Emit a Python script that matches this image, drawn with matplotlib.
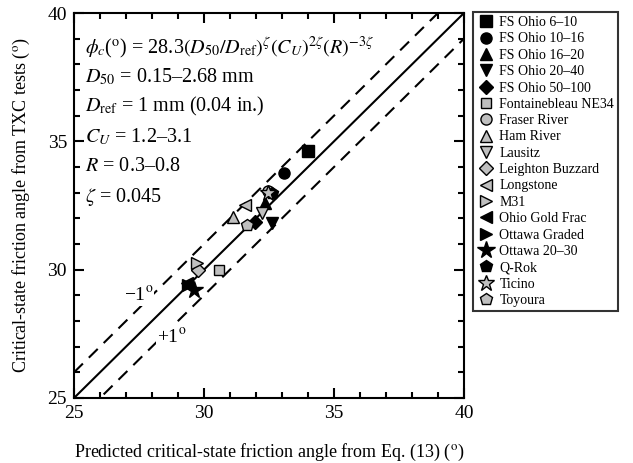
import numpy as np
import matplotlib
matplotlib.use('Agg')
import matplotlib.pyplot as plt

plt.rcParams['font.family'] = ['Liberation Serif', 'DejaVu Serif']
plt.rcParams['mathtext.fontset'] = 'stix'

# dados
nomes = ['FS Ohio 6–10', 'FS Ohio 10–16', 'FS Ohio 16–20', 'FS Ohio 20–40',
         'FS Ohio 50–100', 'Fontainebleau NE34', 'Fraser River', 'Ham River',
         'Lausitz', 'Leighton Buzzard', 'Longstone', 'M31', 'Ohio Gold Frac',
         'Ottawa Graded', 'Ottawa 20–30', 'Q-Rok', 'Ticino', 'Toyoura']
previsto = [34.0, 33.09, 32.35, 32.6, 31.96, 30.56, 32.45, 31.13,
            32.22, 29.78, 31.58, 29.72, 29.33, 29.4, 29.6, 32.6, 32.45, 31.64]
medido = [34.63, 33.75, 32.58, 31.8, 31.87, 29.99, 33.05, 32.06,
          32.2, 29.99, 32.52, 30.25, 29.47, 29.4, 29.2, 32.97, 33.0, 31.74]

marcadores = ['s', 'o', '^', 'v', 'D', 's', 'o', '^', 'v', 'D',
              '<', '>', '<', '>', '*', 'p', '*', 'p']
cores = ['black'] * 5 + ['#bfbfbf'] * 7 + ['black'] * 4 + ['#bfbfbf'] * 2
tamanhos = [8, 8, 9, 9, 7, 7, 8, 9, 9, 7, 9, 9, 9, 9, 13, 9, 12, 9]

grau = r'$^{\mathrm{o}}$'

fig = plt.figure(figsize=(6.33, 4.63), dpi=100)
ax = fig.add_axes([74 / 633, 1 - 398 / 463, 390 / 633, 385 / 463])

# linhas de referencia
lim = np.array([25, 40])
ax.plot(lim, lim, color='black', lw=1.5, zorder=1)
ax.plot(lim, lim + 1, color='black', lw=1.5, ls=(0, (6, 4)), zorder=1)
ax.plot(lim, lim - 1, color='black', lw=1.5, ls=(0, (6, 4)), zorder=1)

for x, y, m, c, s, n in zip(previsto, medido, marcadores, cores, tamanhos, nomes):
    ax.plot([x], [y], marker=m, color=c, markeredgecolor='black',
            markeredgewidth=1.0, markersize=s, ls='none', label=n, zorder=3)

ax.set_xlim(25, 40)
ax.set_ylim(25, 40)
ax.set_xticks([25, 30, 35, 40])
ax.set_yticks([25, 30, 35, 40])
ax.set_xticks(np.arange(25, 41, 1), minor=True)
ax.set_yticks(np.arange(25, 41, 1), minor=True)
ax.tick_params(which='both', direction='in', top=True, right=True, width=1.5,
               labelsize=14, pad=5)
ax.tick_params(which='major', length=7)
ax.tick_params(which='minor', length=4)
for sp in ax.spines.values():
    sp.set_linewidth(1.5)

ax.set_xlabel('Predicted critical-state friction angle from Eq. (13) (' + grau + ')',
              fontsize=13, labelpad=14)
ax.set_ylabel('Critical-state friction angle from TXC tests (' + grau + ')',
              fontsize=13, labelpad=11)

# texto com a equacao
linhas = [r'$\phi_c$(' + grau + r') = 28.3$(D_{50}/D_{\mathrm{ref}})^{\zeta}(C_U)^{2\zeta}(R)^{-3\zeta}$',
          r'$D_{50}$ = 0.15–2.68 mm',
          r'$D_{\mathrm{ref}}$ = 1 mm (0.04 in.)',
          r'$C_U$ = 1.2–3.1',
          r'$R$ = 0.3–0.8',
          r'$\zeta$ = 0.045']
for i, t in enumerate(linhas):
    ax.text(0.028, 0.912 - i * 0.078, t, transform=ax.transAxes, fontsize=14.5,
            va='center', ha='left')

caixa = dict(facecolor='white', edgecolor='none', pad=0.5)
ax.text(27.5, 29.0, '−1' + grau, fontsize=14, ha='center', va='center',
        bbox=caixa, zorder=2)
ax.text(28.75, 27.4, '+1' + grau, fontsize=14, ha='center', va='center',
        bbox=caixa, zorder=2)

leg = fig.legend(loc='upper left', bbox_to_anchor=(473 / 633, 1 - 12 / 463),
                 fontsize=10, frameon=True, fancybox=False, borderpad=0.3,
                 labelspacing=0.24, handletextpad=0.4, handlelength=1.2,
                 borderaxespad=0)
leg.get_frame().set_edgecolor('black')
leg.get_frame().set_linewidth(1.5)

fig.savefig('out.png', dpi=100)
